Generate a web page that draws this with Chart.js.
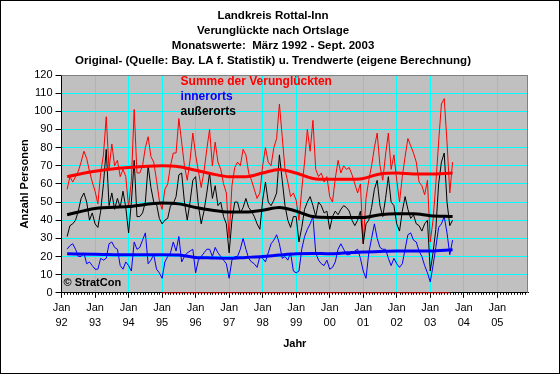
<!DOCTYPE html>
<html>
<head>
<meta charset="utf-8">
<script src="https://cdn.jsdelivr.net/npm/chart.js@4.4.0/dist/chart.umd.min.js"></script>
<style>
html, body { margin: 0; padding: 0; background: #fff; }
</style>
</head>
<body>
<canvas id="chart" width="560" height="374"></canvas>
<script>
// Monate gezählt ab Jan 1992 (0), erster Wert = März 1992
const firstMonth = 2;

const titleLines = [
    'Landkreis Rottal-Inn',
    'Verunglückte nach Ortslage',
    'Monatswerte:  März 1992 - Sept. 2003',
    'Original- (Quelle: Bay. LA f. Statistik) u. Trendwerte (eigene Berechnung)'
];
const yearLabels = ['92', '93', '94', '95', '96', '97', '98', '99', '00', '01', '02', '03', '04', '05'];

// Monatswerte März 1992 - Sept. 2003
const summe = [
    57, 64, 61, 64, 67, 72, 78, 74, 67, 61,
    56, 49, 66, 76, 97, 68, 82, 70, 73, 64, 68, 64,
    47, 62, 101, 66, 66, 70, 80, 86, 75, 72, 62, 51,
    46, 57, 60, 70, 77, 77, 96, 83, 70, 62, 73, 88,
    76, 67, 58, 67, 79, 90, 70, 83, 72, 68, 60, 55,
    30, 59, 69, 72, 70, 79, 76, 66, 62, 57, 52, 55,
    70, 80, 72, 70, 80, 85, 104, 86, 68, 61, 53, 55,
    51, 40, 57, 72, 90, 78, 95, 68, 64, 66, 61, 64,
    53, 50, 63, 73, 66, 70, 68, 69, 65, 60, 55, 60,
    27, 52, 62, 70, 80, 88, 70, 62, 76, 88, 68, 76,
    62, 50, 64, 75, 85, 81, 77, 72, 61, 59, 54, 62,
    28, 40, 60, 83, 104, 107, 83, 55, 72
];
const innerorts = [
    24, 26, 27, 24, 20, 20, 22, 16, 17, 15,
    13, 13, 19, 18, 19, 27, 28, 25, 24, 15, 13, 17,
    15, 12, 28, 24, 25, 29, 33, 16, 18, 21, 13, 11,
    8, 17, 20, 22, 28, 23, 31, 17, 20, 22, 23, 24,
    11, 18, 20, 22, 24, 24, 20, 25, 22, 20, 18, 16,
    8, 18, 20, 20, 24, 30, 24, 19, 17, 16, 14, 20,
    19, 17, 22, 27, 29, 32, 27, 19, 20, 18, 22, 12,
    11, 12, 24, 31, 35, 38, 42, 22, 18, 16, 15, 18,
    13, 14, 17, 24, 27, 24, 21, 21, 22, 23, 24, 19,
    12, 8, 22, 30, 38, 30, 25, 24, 24, 19, 15, 19,
    16, 14, 16, 24, 32, 33, 29, 28, 23, 20, 15, 11,
    6, 15, 25, 36, 38, 42, 33, 21, 29
];
const ausserorts = [
    31, 37, 38, 40, 45, 52, 55, 50, 40, 44,
    38, 36, 45, 60, 79, 48, 55, 46, 52, 47, 56, 47,
    33, 50, 73, 42, 42, 44, 50, 70, 58, 50, 49, 41,
    38, 40, 41, 48, 49, 53, 65, 66, 50, 40, 50, 62,
    64, 48, 38, 45, 55, 66, 52, 59, 48, 50, 42, 38,
    22, 40, 50, 50, 44, 47, 52, 47, 45, 42, 38, 35,
    51, 61, 50, 48, 51, 55, 76, 62, 48, 40, 36, 42,
    42, 28, 36, 46, 50, 53, 48, 42, 50, 48, 44, 45,
    35, 42, 45, 43, 46, 48, 47, 45, 40, 37, 40, 45,
    27, 38, 40, 47, 57, 62, 48, 42, 52, 64, 50, 48,
    38, 34, 45, 53, 46, 41, 43, 38, 37, 34, 38, 40,
    12, 22, 35, 60, 72, 77, 50, 37, 40
];

const trendMonths = [2, 12, 24, 36, 42, 48, 54, 60, 66, 72, 78, 84, 90, 96, 102, 108, 114, 120, 126, 132, 140];
const trendSumme = [64, 67, 69, 70, 69.5, 67.5, 65.5, 64, 64, 66, 68, 66, 63, 62.5, 62.5, 63, 65.5, 66, 65.5, 65.5, 66];
const trendInner = [21.5, 21.3, 21, 21, 20.8, 19.5, 19.2, 19, 19.5, 20, 20.8, 21.5, 21.7, 21.5, 22, 22.5, 22.8, 23, 23, 23, 23.7];
const trendAusser = [43, 46.5, 47.5, 49.5, 49, 47, 45.5, 44.5, 44.5, 45.5, 47, 45, 42, 41.5, 41.5, 41.5, 43, 43.5, 43.5, 42.5, 42];

// rote Linie auf der Nulllinie (Jan 1995 - Aug 2003)
const nullMonths = [36, 139];
const nullValues = [0, 0];

const FONT = "'Liberation Sans', Arial, sans-serif";

function toPoints(values) {
    return values.map((v, i) => ({ x: firstMonth + i, y: v }));
}
function pairs(months, values) {
    return months.map((m, i) => ({ x: m, y: values[i] }));
}

const backgroundPlugin = {
    id: 'background',
    beforeDraw(chart) {
        const { ctx, chartArea: a, width, height } = chart;
        ctx.save();
        ctx.fillStyle = '#fff';
        ctx.fillRect(0, 0, width, height);
        ctx.fillStyle = '#c0c0c0';
        ctx.fillRect(a.left, a.top, a.right - a.left, a.bottom - a.top);
        ctx.strokeStyle = '#000';
        ctx.lineWidth = 1;
        ctx.strokeRect(0.5, 0.5, width - 1, height - 1);
        ctx.restore();
    }
};

const decorPlugin = {
    id: 'decor',
    afterDatasetsDraw(chart) {
        const { ctx, chartArea: a } = chart;
        const x = chart.scales.x;
        ctx.save();
        // grauer Rahmen oben und rechts
        ctx.strokeStyle = '#808080';
        ctx.lineWidth = 1;
        ctx.beginPath();
        ctx.moveTo(a.left, a.top + 0.5);
        ctx.lineTo(a.right - 0.5, a.top + 0.5);
        ctx.lineTo(a.right - 0.5, a.bottom);
        ctx.stroke();
        // Monatsstriche
        ctx.strokeStyle = '#000';
        ctx.beginPath();
        for (let m = 1; m < x.max; m++) {
            if (m % 12 === 0) continue;
            const px = Math.round(x.getPixelForValue(m)) + 0.5;
            ctx.moveTo(px, a.bottom);
            ctx.lineTo(px, a.bottom + 2);
        }
        ctx.stroke();
        // Legende im Diagramm
        ctx.font = 'bold 12px ' + FONT;
        ctx.textBaseline = 'middle';
        ctx.textAlign = 'left';
        const lx = a.left + 119;
        ctx.fillStyle = '#ff0000';
        ctx.fillText('Summe der Verunglückten', lx, a.top + 6.5);
        ctx.fillStyle = '#0000ff';
        ctx.fillText('innerorts', lx, a.top + 21.5);
        ctx.fillStyle = '#000';
        ctx.fillText('außerorts', lx, a.top + 37);
        ctx.font = 'bold 11px ' + FONT;
        ctx.fillText('© StratCon', a.left + 2, a.bottom - 10);
        ctx.restore();
    }
};

new Chart(document.getElementById('chart').getContext('2d'), {
    type: 'line',
    data: {
        datasets: [
            { label: 'Trend Summe', data: pairs(trendMonths, trendSumme), borderColor: '#ff0000', borderWidth: 3, order: 0, cubicInterpolationMode: 'monotone' },
            { label: 'Trend innerorts', data: pairs(trendMonths, trendInner), borderColor: '#0000ff', borderWidth: 3, order: 1, cubicInterpolationMode: 'monotone' },
            { label: 'Trend außerorts', data: pairs(trendMonths, trendAusser), borderColor: '#000000', borderWidth: 3, order: 2, cubicInterpolationMode: 'monotone' },
            { label: 'außerorts', data: toPoints(ausserorts), borderColor: '#000000', borderWidth: 1, order: 3 },
            { label: 'innerorts', data: toPoints(innerorts), borderColor: '#0000ff', borderWidth: 1, order: 4 },
            { label: 'Summe der Verunglückten', data: toPoints(summe), borderColor: '#ff0000', borderWidth: 1, order: 5 },
            { label: 'Null', data: pairs(nullMonths, nullValues), borderColor: '#ff0000', borderWidth: 1, order: 6, clip: false }
        ]
    },
    options: {
        responsive: false,
        animation: false,
        events: [],
        elements: {
            point: { radius: 0 },
            line: { tension: 0, fill: false }
        },
        layout: { padding: { left: 18, right: 32, top: 0, bottom: 23 } },
        plugins: {
            legend: { display: false },
            tooltip: { enabled: false },
            title: {
                display: true,
                text: titleLines,
                color: '#000',
                font: { family: FONT, size: 11.5, weight: 'bold', lineHeight: 15 / 11.5 },
                padding: { top: 8, bottom: 7 }
            }
        },
        scales: {
            x: {
                type: 'linear',
                min: 0,
                max: 167,
                afterBuildTicks: axis => {
                    axis.ticks = yearLabels.map((_, i) => ({ value: i * 12 }));
                },
                ticks: {
                    stepSize: 12,
                    autoSkip: false,
                    maxRotation: 0,
                    color: '#000',
                    padding: 3,
                    font: { family: FONT, size: 11, lineHeight: 15 / 11 },
                    callback: value => value % 12 === 0 ? ['Jan', yearLabels[value / 12]] : ''
                },
                grid: { color: '#00ffff', tickColor: '#000', tickLength: 5 },
                border: { color: '#000' },
                title: {
                    display: true,
                    text: 'Jahr',
                    color: '#000',
                    font: { family: FONT, size: 11, weight: 'bold' },
                    padding: { top: 4, bottom: 0 }
                }
            },
            y: {
                min: 0,
                max: 120,
                ticks: {
                    stepSize: 10,
                    color: '#000',
                    padding: 3,
                    font: { family: FONT, size: 11 }
                },
                grid: { color: '#00ffff', tickColor: '#000', tickLength: 6 },
                border: { color: '#000' },
                title: {
                    display: true,
                    text: 'Anzahl Personen',
                    color: '#000',
                    font: { family: FONT, size: 11, weight: 'bold' },
                    padding: { top: 0, bottom: 0 }
                }
            }
        }
    },
    plugins: [backgroundPlugin, decorPlugin]
});
</script>
</body>
</html>
